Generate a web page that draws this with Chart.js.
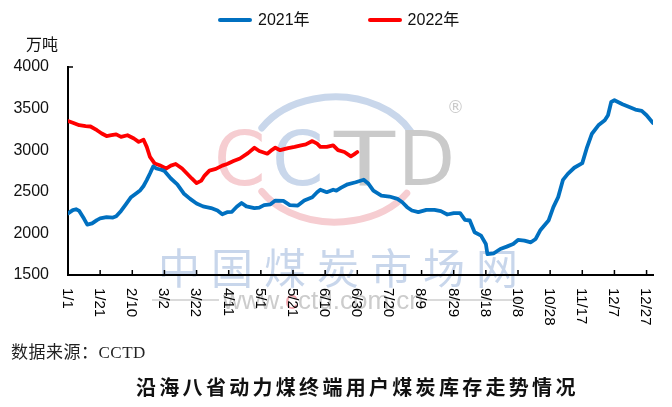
<!DOCTYPE html>
<html>
<head>
<meta charset="utf-8">
<script src="https://cdn.jsdelivr.net/npm/chart.js@4/dist/chart.umd.min.js"></script>
<style>
  html, body { margin: 0; padding: 0; background: #fff; }
  #wrap { position: relative; width: 672px; height: 407px; overflow: hidden; }
  #legend { position: absolute; top: 11px; left: 218px; display: flex;
    font: 16px "Liberation Sans", "Noto Sans CJK SC", sans-serif; line-height: 18px; color: #111; }
  #legend .item { display: flex; align-items: center; margin-right: 58px; }
  #legend .item i { display: block; width: 34px; height: 4px; border-radius: 2px; margin-right: 6px; }
  #unit { position: absolute; left: 26px; top: 31px; font: 16px "Noto Sans CJK SC", sans-serif; color: #111; }
  #source { position: absolute; left: 11px; top: 338px; font: 17px "Liberation Serif", "Noto Sans CJK SC", serif;
    color: #222; letter-spacing: 0.5px; }
  #title { position: absolute; left: 136px; top: 372px; white-space: nowrap;
    font: bold 20px "Noto Sans CJK SC", sans-serif; letter-spacing: 3.3px; color: #111; }
</style>
</head>
<body>
<div id="wrap">
  <canvas id="chart"></canvas>
  <div id="legend"></div>
  <div id="unit">万吨</div>
  <div id="source">数据来源：CCTD</div>
  <div id="title">沿海八省动力煤终端用户煤炭库存走势情况</div>
</div>
<script>
// x axis: day of year, one tick label every 20 days
const tickLabels = ['1/1', '1/21', '2/10', '3/2', '3/22', '4/11', '5/1', '5/21', '6/10', '6/30',
  '7/20', '8/9', '8/29', '9/18', '10/8', '10/28', '11/17', '12/7', '12/27'];
const seriesNames = ['2021年', '2022年'];

// 2021 (万吨)
const days2021 = [0, 3, 5, 7, 10, 12, 15, 18, 20, 24, 28, 30, 33, 36, 39, 43, 45, 47, 49, 51, 53, 55, 58,
  60, 64, 68, 72, 76, 80, 84, 89, 93, 96, 99, 102, 105, 108, 111, 116, 119, 122, 126, 129, 134, 138, 143,
  147, 152, 155, 157, 161, 165, 167, 170, 174, 179, 184, 187, 190, 195, 200, 205, 208, 211, 214, 218, 223,
  228, 232, 236, 240, 244, 247, 250, 253, 257, 260, 261, 265, 269, 273, 277, 280, 284, 288, 291, 294, 299,
  302, 305, 308, 311, 315, 320, 323, 326, 330, 334, 336, 338, 340, 345, 350, 353, 357, 360, 364];
const stock2021 = [2240, 2280, 2290, 2270, 2175, 2105, 2120, 2160, 2180, 2195, 2190, 2205, 2270, 2350, 2430,
  2490, 2520, 2570, 2640, 2720, 2805, 2780, 2765, 2750, 2660, 2590, 2480, 2415, 2360, 2325, 2305, 2275, 2230,
  2255, 2260, 2320, 2365, 2325, 2305, 2310, 2340, 2350, 2395, 2390, 2340, 2335, 2395, 2435, 2495, 2525, 2495,
  2525, 2515, 2550, 2590, 2615, 2645, 2596, 2515, 2455, 2443, 2415, 2375, 2315, 2275, 2255, 2283, 2283, 2267,
  2227, 2243, 2243, 2163, 2155, 2014, 1973, 1873, 1750, 1761, 1813, 1841, 1873, 1921, 1913, 1893, 1933, 2042,
  2154, 2315, 2436, 2644, 2716, 2789, 2845, 3038, 3198, 3299, 3359, 3420, 3580, 3600, 3552, 3512, 3488, 3472,
  3420, 3327];

// 2022 (万吨), up to 6/30
const days2022 = [0, 3, 7, 11, 14, 18, 21, 24, 27, 30, 33, 37, 41, 44, 47, 49, 51, 54, 57, 61, 64, 67, 71,
  74, 77, 80, 83, 85, 88, 92, 96, 99, 103, 107, 112, 116, 119, 124, 127, 129, 132, 137, 141, 145, 148, 152,
  155, 157, 161, 165, 168, 172, 176, 178, 180];
const stock2022 = [3350, 3330, 3300, 3290, 3285, 3240, 3200, 3170, 3180, 3190, 3160, 3180, 3140, 3100, 3125,
  3040, 2920, 2840, 2820, 2780, 2815, 2835, 2780, 2720, 2660, 2605, 2635, 2695, 2755, 2775, 2815, 2835, 2870,
  2900, 2965, 3030, 2990, 2958, 3005, 3030, 3000, 3025, 3040, 3058, 3070, 3110, 3078, 3040, 3040, 3058, 3000,
  2978, 2926, 2950, 2978];

const BLUE = '#0070C0';
const RED = '#FF0000';

function toPoints(days, values) {
  return days.map((d, i) => ({ x: d, y: values[i] }));
}

// faint CCTD watermark behind the plot
const watermark = {
  id: 'watermark',
  beforeDraw(chart) {
    const { ctx } = chart;
    ctx.save();
    ctx.lineCap = 'round';
    ctx.lineWidth = 7;
    ctx.strokeStyle = '#C9D7EB';
    ctx.beginPath();
    ctx.ellipse(335, 160, 85, 63, 0, Math.PI * 1.17, Math.PI * 1.85);
    ctx.stroke();
    ctx.strokeStyle = '#F6CDD1';
    ctx.beginPath();
    ctx.ellipse(335, 160, 85, 62, 0, Math.PI * 0.18, Math.PI * 0.83);
    ctx.stroke();

    ctx.textBaseline = 'alphabetic';
    ctx.textAlign = 'left';
    ctx.font = '74px "DejaVu Sans"';
    ctx.fillStyle = '#F6CDD1';
    ctx.fillText('C', 214, 185);
    ctx.fillStyle = '#C9D7EB';
    ctx.fillText('C', 272, 185);
    ctx.fillStyle = '#CACACA';
    ctx.save();
    ctx.translate(334, 185);
    ctx.scale(1.35, 1);
    ctx.fillText('T', 0, 0);
    ctx.restore();
    ctx.fillText('D', 398, 185);
    ctx.font = '17px "DejaVu Sans"';
    ctx.fillText('®', 447, 113);

    ctx.font = '42px "Noto Sans CJK SC"';
    ctx.fillStyle = 'rgba(190, 207, 232, 0.85)';
    ctx.textAlign = 'center';
    ctx.textBaseline = 'middle';
    Array.from('中国煤炭市场网').forEach((ch, i) => ctx.fillText(ch, 179 + i * 53, 268));

    ctx.strokeStyle = '#DADADA';
    ctx.lineWidth = 2;
    ctx.lineCap = 'butt';
    ctx.beginPath();
    ctx.moveTo(152, 300); ctx.lineTo(219, 300);
    ctx.moveTo(427, 300); ctx.lineTo(524, 300);
    ctx.stroke();
    ctx.font = '26px "Liberation Sans"';
    ctx.textAlign = 'left';
    let x = 223;
    [['www.', '#CCCCCC'], ['c', '#F2A9B0'], ['ctd.com.cn', '#CCCCCC']].forEach(([s, c]) => {
      ctx.fillStyle = c;
      ctx.fillText(s, x, 302);
      x += ctx.measureText(s).width;
    });
    ctx.restore();
  }
};

// inner tick marks and vertical (top-to-bottom) date labels
const axisExtras = {
  id: 'axisExtras',
  afterDraw(chart) {
    const { ctx, chartArea, scales: { x } } = chart;
    ctx.save();
    ctx.strokeStyle = '#000';
    ctx.lineWidth = 1.5;
    ctx.beginPath();
    x.ticks.forEach(t => {
      const px = x.getPixelForValue(t.value);
      ctx.moveTo(px, chartArea.bottom);
      ctx.lineTo(px, chartArea.bottom - 5);
    });
    ctx.moveTo(chartArea.left, chartArea.top);
    ctx.lineTo(chartArea.left + 5, chartArea.top);
    ctx.stroke();
    ctx.fillStyle = '#000';
    ctx.font = '15px "Liberation Sans"';
    ctx.textAlign = 'left';
    ctx.textBaseline = 'middle';
    x.ticks.forEach(t => {
      const px = x.getPixelForValue(t.value);
      ctx.save();
      ctx.translate(px - 1, chartArea.bottom + 13);
      ctx.rotate(Math.PI / 2);
      ctx.fillText(t.label, 0, 0);
      ctx.restore();
    });
    ctx.restore();
  }
};

const htmlLegend = {
  id: 'htmlLegend',
  afterUpdate(chart) {
    const box = document.getElementById('legend');
    box.innerHTML = '';
    chart.data.datasets.forEach(ds => {
      const item = document.createElement('span');
      item.className = 'item';
      const mark = document.createElement('i');
      mark.style.background = ds.borderColor;
      item.append(mark, document.createTextNode(ds.label));
      box.append(item);
    });
  }
};

new Chart(document.getElementById('chart'), {
  type: 'line',
  data: {
    datasets: [
      {
        label: seriesNames[0],
        data: toPoints(days2021, stock2021),
        borderColor: BLUE,
        backgroundColor: BLUE,
        borderWidth: 3.8,
      },
      {
        label: seriesNames[1],
        data: toPoints(days2022, stock2022),
        borderColor: RED,
        backgroundColor: RED,
        borderWidth: 3.8,
      }
    ],
  },
  options: {
    responsive: true,
    maintainAspectRatio: false,
    animation: false,
    layout: { padding: { top: 67, left: 8, right: 19, bottom: 72 } },
    elements: {
      point: { radius: 0 },
      line: { tension: 0, borderJoinStyle: 'round', borderCapStyle: 'round' }
    },
    plugins: {
      legend: { display: false },
      tooltip: { enabled: false }
    },
    scales: {
      x: {
        type: 'linear',
        min: 0,
        max: 364,
        grid: { display: false },
        border: { display: true, color: '#000', width: 2 },
        ticks: {
          display: false,
          stepSize: 20,
          includeBounds: false,
          callback: value => tickLabels[value / 20]
        },
        afterFit: scale => { scale.height = 60; }
      },
      y: {
        min: 1500,
        max: 4000,
        grid: { display: false },
        border: { display: true, color: '#000', width: 2 },
        ticks: {
          stepSize: 500,
          color: '#111',
          padding: 11,
          font: { family: '"Liberation Sans"', size: 16 },
          callback: value => String(value)
        },
        afterFit: scale => { scale.width = 60; }
      }
    }
  },
  plugins: [watermark, axisExtras, htmlLegend]
});
</script>
</body>
</html>
